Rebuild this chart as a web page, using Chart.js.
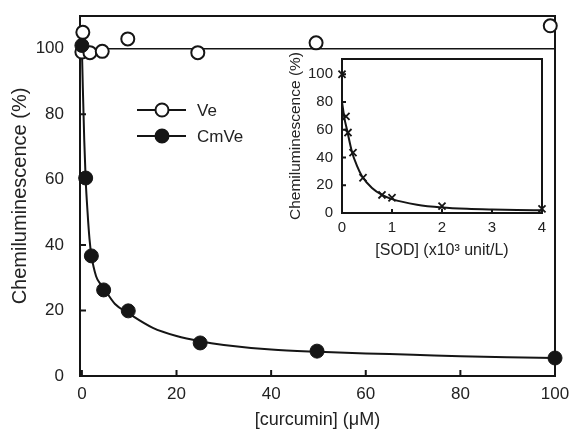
<!DOCTYPE html>
<html>
<head>
<meta charset="utf-8">
<script src="https://cdn.jsdelivr.net/npm/chart.js@4.4.1/dist/chart.umd.min.js"></script>
<style>
  html, body { margin: 0; padding: 0; background: #fff; }
  #wrap { position: relative; width: 570px; height: 433px; }
  #main { position: absolute; left: 0; top: 0; }
  #inset { position: absolute; left: 280px; top: 40px; }
</style>
</head>
<body>
<div id="wrap">
  <canvas id="main" width="570" height="433"></canvas>
  <canvas id="inset" width="280" height="230"></canvas>
</div>
<script>
// main plot: chemiluminescence vs curcumin
const veX = [0, 0.2, 1.7, 4.3, 9.7, 24.5, 49.5, 99];
const veY = [99, 105, 98.8, 99.2, 103, 98.8, 101.8, 107];
const veLineX = [0, 100];
const veLineY = [100, 100];

const cmveX = [0, 0.8, 2, 4.6, 9.8, 25, 49.7, 100];
const cmveY = [101, 60.5, 36.7, 26.3, 19.9, 10.1, 7.6, 5.5];
// fitted curve
const cmveFitX = [0, 0.2, 0.5, 0.8, 1.2, 1.6, 2, 3, 4, 5, 7, 10, 15, 20, 25, 30, 40, 50, 60, 70, 80, 90, 100];
const cmveFitY = [100, 88, 72, 60, 50, 42, 37, 30.5, 28, 26, 22, 19, 14.7, 12.2, 10.6, 9.5, 8.1, 7.4, 6.9, 6.5, 6.0, 5.7, 5.5];

const mainXTicks = [0, 20, 40, 60, 80, 100];
const mainYTicks = [0, 20, 40, 60, 80, 100];

// inset: chemiluminescence vs SOD
const sodX = [0, 0.08, 0.12, 0.22, 0.42, 0.8, 1, 2, 4];
const sodY = [100, 69.6, 58, 43.5, 25.4, 13, 11, 5, 3];
const sodFitX = [0, 0.05, 0.1, 0.2, 0.3, 0.4, 0.6, 0.8, 1, 1.5, 2, 2.5, 3, 3.5, 4];
const sodFitY = [80, 68, 60, 44, 34, 26.5, 18, 13, 10, 6, 4, 3, 2.5, 2.2, 2];

const insetXTicks = [0, 1, 2, 3, 4];
const insetYTicks = [0, 20, 40, 60, 80, 100];

const ink = '#151515';
Chart.defaults.font.family = "'Liberation Sans', Arial, sans-serif";
Chart.defaults.color = '#222';

function pts(xs, ys) {
  return xs.map((x, i) => ({x: x, y: ys[i]}));
}

// box round the plot and ticks pointing inward
const framePlugin = {
  id: 'frame',
  beforeDatasetsDraw(chart, args, opts) {
    const {ctx, chartArea: a, scales: {x, y}} = chart;
    ctx.save();
    ctx.strokeStyle = ink;
    ctx.lineWidth = opts.width;
    ctx.strokeRect(a.left, a.top, a.right - a.left, a.bottom - a.top);
    ctx.beginPath();
    x.ticks.forEach(t => {
      const px = x.getPixelForValue(t.value);
      ctx.moveTo(px, a.bottom);
      ctx.lineTo(px, a.bottom - opts.tick);
    });
    y.ticks.forEach(t => {
      const py = y.getPixelForValue(t.value);
      ctx.moveTo(a.left, py);
      ctx.lineTo(a.left + opts.tick, py);
    });
    ctx.stroke();
    ctx.restore();
  }
};

const legendPlugin = {
  id: 'boxLegend',
  afterDatasetsDraw(chart) {
    const ctx = chart.ctx;
    const items = [{label: 'Ve', fill: '#fff', y: 110}, {label: 'CmVe', fill: ink, y: 136}];
    ctx.save();
    items.forEach(it => {
      ctx.strokeStyle = ink;
      ctx.lineWidth = 2;
      ctx.beginPath();
      ctx.moveTo(137, it.y);
      ctx.lineTo(186, it.y);
      ctx.stroke();
      ctx.beginPath();
      ctx.arc(162, it.y, 6.5, 0, Math.PI * 2);
      ctx.fillStyle = it.fill;
      ctx.fill();
      ctx.stroke();
      ctx.fillStyle = '#222';
      ctx.font = "17px 'Liberation Sans', Arial, sans-serif";
      ctx.textBaseline = 'middle';
      ctx.fillText(it.label, 197, it.y + 1);
    });
    ctx.restore();
  }
};

function fixTicks(list) {
  return s => { s.ticks = list.map(v => ({value: v})); };
}

new Chart(document.getElementById('main'), {
  type: 'scatter',
  data: {
    datasets: [
      {label: 'Ve fit', data: pts(veLineX, veLineY), showLine: true, borderColor: ink, borderWidth: 1.6,
       pointRadius: 0, order: 4, clip: false},
      {label: 'CmVe fit', data: pts(cmveFitX, cmveFitY), showLine: true, borderColor: ink, borderWidth: 2,
       pointRadius: 0, cubicInterpolationMode: 'monotone', order: 3, clip: false},
      {label: 'Ve', data: pts(veX, veY), pointRadius: 6.5, pointBackgroundColor: '#fff',
       pointBorderColor: ink, pointBorderWidth: 2, order: 2, clip: false},
      {label: 'CmVe', data: pts(cmveX, cmveY), pointRadius: 7, pointBackgroundColor: ink,
       pointBorderColor: ink, pointBorderWidth: 1, order: 1, clip: false}
    ]
  },
  options: {
    responsive: false,
    animation: false,
    events: [],
    layout: {padding: {top: 16, right: 15, left: 0, bottom: 0}},
    plugins: {
      legend: {display: false},
      tooltip: {enabled: false},
      frame: {width: 2, tick: 6}
    },
    scales: {
      x: {
        type: 'linear', min: -0.4, max: 100,
        afterBuildTicks: fixTicks(mainXTicks),
        afterFit: s => { s.height = 57; s.paddingLeft = 0; s.paddingRight = 0; },
        grid: {display: false, drawTicks: false},
        border: {display: false},
        ticks: {font: {size: 17}, padding: 8, maxRotation: 0},
        title: {display: true, text: '[curcumin] (μM)', font: {size: 18}, padding: {top: 0, bottom: 2}}
      },
      y: {
        type: 'linear', min: 0, max: 110,
        afterBuildTicks: fixTicks(mainYTicks),
        afterFit: s => { s.width = 80; s.paddingTop = 0; s.paddingBottom = 0; },
        grid: {display: false, drawTicks: false},
        border: {display: false},
        ticks: {font: {size: 17}, padding: 16},
        title: {display: true, text: 'Chemiluminescence (%)', font: {size: 20}, padding: {top: 8, bottom: 0}}
      }
    }
  },
  plugins: [framePlugin, legendPlugin]
});

new Chart(document.getElementById('inset'), {
  type: 'scatter',
  data: {
    datasets: [
      {label: 'SOD fit', data: pts(sodFitX, sodFitY), showLine: true, borderColor: ink, borderWidth: 2,
       pointRadius: 0, cubicInterpolationMode: 'monotone', order: 2, clip: false},
      {label: 'SOD', data: pts(sodX, sodY), pointStyle: 'crossRot', pointRadius: 5,
       pointBorderColor: ink, pointBorderWidth: 1.8, order: 1, clip: false}
    ]
  },
  options: {
    responsive: false,
    animation: false,
    events: [],
    layout: {padding: {top: 19, right: 18, left: 0, bottom: 0}},
    plugins: {
      legend: {display: false},
      tooltip: {enabled: false},
      frame: {width: 2, tick: 4}
    },
    scales: {
      x: {
        type: 'linear', min: 0, max: 4,
        afterBuildTicks: fixTicks(insetXTicks),
        afterFit: s => { s.height = 57; s.paddingLeft = 0; s.paddingRight = 0; },
        grid: {display: false, drawTicks: false},
        border: {display: false},
        ticks: {font: {size: 15}, padding: 6, maxRotation: 0},
        title: {display: true, text: '[SOD] (x10³ unit/L)', font: {size: 16}, padding: {top: 0, bottom: 10}}
      },
      y: {
        type: 'linear', min: 0, max: 111,
        afterBuildTicks: fixTicks(insetYTicks),
        afterFit: s => { s.width = 62; s.paddingTop = 0; s.paddingBottom = 0; },
        grid: {display: false, drawTicks: false},
        border: {display: false},
        ticks: {font: {size: 15}, padding: 9},
        title: {display: true, text: 'Chemiluminescence (%)', font: {size: 15.5}, padding: {top: 6, bottom: 0}}
      }
    }
  },
  plugins: [framePlugin]
});
</script>
</body>
</html>
